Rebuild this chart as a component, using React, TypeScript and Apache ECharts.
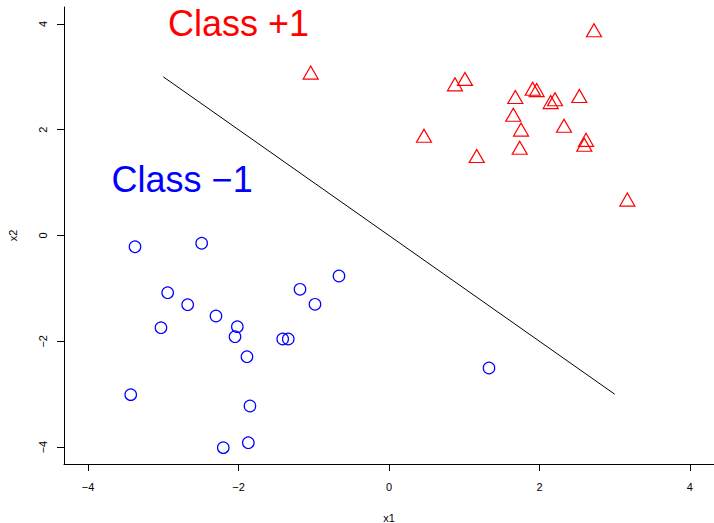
import React, { useEffect, useRef } from "react";
import * as echarts from "echarts";

// Class +1 observations (red triangles)
const plusX = [2.725, 0.877, 1.01, 1.679, 1.91, 1.963, 2.149, 2.207, 2.53, 1.652, 1.755, 2.326, 2.619, 2.596, 0.465, 1.166, 1.737, 3.168, -1.041];
const plusY = [3.843, 2.82, 2.923, 2.58, 2.737, 2.711, 2.484, 2.537, 2.599, 2.244, 1.964, 2.038, 1.771, 1.677, 1.849, 1.465, 1.622, 0.641, 3.042];

// Class -1 observations (blue circles)
const minusX = [-3.376, -2.49, -2.942, -2.676, -2.3, -3.031, -2.016, -2.047, -1.183, -0.665, -0.984, -1.413, -1.339, -1.888, -3.433, -1.848, -1.87, -2.203, 1.329];
const minusY = [-0.212, -0.147, -1.081, -1.308, -1.522, -1.743, -1.724, -1.913, -1.017, -0.766, -1.301, -1.957, -1.957, -2.291, -3.009, -3.223, -3.917, -4.011, -2.505];

// Separating line
const lineX = [-3, 3];
const lineY = [3, -3];

// Tick values
const tickValues = [-4, -2, 0, 2, 4];

// Class annotations
const classNames = ["Class +1", "Class \u22121"];
const classX = [-2, -2.75];
const classY = [4, 1.05];
const classColors = ["#ff0000", "#0000ff"];

const FONT = "'Liberation Sans', Arial, Helvetica, sans-serif";
const fmt = (v: number) => String(v).replace("-", "\u2212");

export default function App() {
  const ref = useRef<HTMLDivElement>(null);
  useEffect(() => {
    if (!ref.current) return;
    const chart = echarts.init(ref.current, null, { renderer: "svg" });
    const pair = (xs: number[], ys: number[]) => xs.map((x, i) => [x, ys[i]]);
    const axisCommon = {
      type: "value" as const,
      min: -4.32,
      max: 4.32,
      splitLine: { show: false },
      axisLine: { show: true, onZero: false, lineStyle: { color: "#000", width: 1 } },
      axisTick: { show: true, length: 7, customValues: tickValues, lineStyle: { color: "#000", width: 1 } },
      nameLocation: "middle" as const,
      nameTextStyle: { color: "#000", fontSize: 11, fontFamily: FONT },
    };
    chart.setOption({
      animation: false,
      grid: { left: 64, top: 7, right: 0, bottom: 59, containLabel: false, outerBoundsMode: "none" },
      xAxis: {
        ...axisCommon,
        name: "x1",
        nameGap: 48,
        axisLabel: { customValues: tickValues, formatter: fmt, color: "#000", fontSize: 11, fontFamily: FONT, margin: 17 },
      },
      yAxis: {
        ...axisCommon,
        name: "x2",
        nameGap: 46,
        axisLabel: { customValues: tickValues, formatter: fmt, rotate: 90, color: "#000", fontSize: 11, fontFamily: FONT, margin: 16 },
      },
      series: [
        {
          type: "scatter",
          silent: true,
          data: pair(plusX, plusY),
          symbol: "triangle",
          symbolSize: [15, 13],
          symbolOffset: [0, -2],
          itemStyle: { color: "rgba(0,0,0,0)", borderColor: "#ff0000", borderWidth: 1.2, opacity: 1 },
        },
        {
          type: "scatter",
          silent: true,
          data: pair(minusX, minusY),
          symbol: "circle",
          symbolSize: 11.5,
          itemStyle: { color: "rgba(0,0,0,0)", borderColor: "#0000ff", borderWidth: 1.2, opacity: 1 },
        },
        {
          type: "line",
          silent: true,
          data: pair(lineX, lineY),
          symbol: "none",
          lineStyle: { color: "#000", width: 1 },
        },
        ...classNames.map((n, i) => ({
          type: "scatter",
          silent: true,
          symbolSize: 0,
          itemStyle: { opacity: 1 },
          data: [{ name: n, value: [classX[i], classY[i]] }],
          label: {
            show: true,
            position: "inside",
            formatter: n,
            color: classColors[i],
            fontSize: 36,
            fontFamily: FONT,
          },
        })),
      ],
    });
    return () => chart.dispose();
  }, []);
  return (
    <div
      ref={ref}
      style={{ position: "absolute", left: 0, top: 0, width: 714, height: 523, background: "#fff" }}
    />
  );
}
